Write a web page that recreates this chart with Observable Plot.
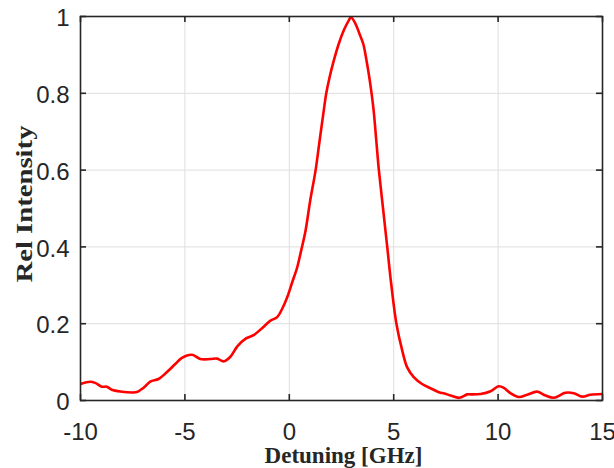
<!DOCTYPE html>
<html>
<head>
<meta charset="utf-8">
<script src="https://cdn.jsdelivr.net/npm/d3@7"></script>
<script src="https://cdn.jsdelivr.net/npm/@observablehq/plot@0.6"></script>
<style>
  html, body { margin: 0; padding: 0; background: #fff; }
</style>
</head>
<body>
<div id="chart"></div>
<script>
// Detuning [GHz]
const detuning = [
  -10, -9.54, -9.3, -8.98, -8.74, -8.5, -8.02, -7.54, -7.3, -6.98,
  -6.66, -6.26, -5.86, -5.46, -5.14, -4.66, -4.26, -3.78, -3.46, -3.14,
  -2.82, -2.49, -2.09, -1.69, -1.29, -0.9, -0.58, -0.34, -0.1, 0.14,
  0.38, 0.57, 0.78, 1.0, 1.26, 1.43, 1.65, 1.77, 1.93, 2.13,
  2.37, 2.61, 2.85, 2.95, 3.17, 3.36, 3.54, 3.70, 3.83, 3.94,
  4.04, 4.18, 4.29, 4.49, 4.69, 4.88, 5.13, 5.41, 5.64, 5.96,
  6.36, 6.84, 7.24, 7.40, 7.72, 8.15, 8.52, 8.68, 9.16, 9.64,
  10.03, 10.27, 10.59, 10.99, 11.39, 11.87, 12.27, 12.66, 13.22, 13.62,
  14.03, 14.42, 15.0
];
// Rel Intensity
const intensity = [
  0.043, 0.049, 0.046, 0.036, 0.036, 0.028, 0.023, 0.021, 0.022, 0.033,
  0.049, 0.056, 0.074, 0.095, 0.111, 0.119, 0.108, 0.108, 0.109, 0.102,
  0.114, 0.141, 0.161, 0.171, 0.189, 0.208, 0.217, 0.239, 0.269, 0.308,
  0.347, 0.391, 0.443, 0.52, 0.60, 0.668, 0.755, 0.80, 0.842, 0.885,
  0.929, 0.964, 0.99, 0.998, 0.981, 0.955, 0.929, 0.885, 0.842, 0.80,
  0.755, 0.668, 0.60, 0.50, 0.40, 0.304, 0.20, 0.130, 0.087, 0.061,
  0.043, 0.030, 0.020, 0.019, 0.013, 0.007, 0.016, 0.016, 0.017, 0.024,
  0.037, 0.033, 0.019, 0.009, 0.015, 0.023, 0.013, 0.007, 0.020, 0.019,
  0.010, 0.015, 0.017
];
const xTicks = [-10, -5, 0, 5, 10, 15];
const xTickLabels = ["-10", "-5", "0", "5", "10", "15"];
const yTicks = [0, 0.2, 0.4, 0.6, 0.8, 1];
const yTickLabels = ["0", "0.2", "0.4", "0.6", "0.8", "1"];
const xLabel = "Detuning [GHz]";
const yLabel = "Rel Intensity";

const data = detuning.map((x, i) => ({x, y: intensity[i]}));

const W = 614, H = 468, mL = 80, mR = 12, mT = 16, mB = 68;
const pw = W - mL - mR, ph = H - mT - mB;
const dark = "#262626";
const tickLen = 6;
const serif = "'Liberation Serif', 'Times New Roman', serif";

const chart = Plot.plot({
  width: W, height: H,
  marginLeft: mL, marginRight: mR, marginTop: mT, marginBottom: mB,
  x: {domain: [-10, 15]},
  y: {domain: [0, 1]},
  style: {background: "#fff", fontFamily: "'Liberation Sans', Arial, sans-serif", overflow: "visible"},
  marks: [
    Plot.gridX(xTicks, {stroke: "#dedede", strokeOpacity: 1, strokeWidth: 1}),
    Plot.gridY(yTicks, {stroke: "#dedede", strokeOpacity: 1, strokeWidth: 1}),
    Plot.line(data, {x: "x", y: "y", stroke: "#ff0000", strokeWidth: 2.6, curve: "catmull-rom", clip: true}),
    Plot.frame({stroke: dark, strokeWidth: 1.6}),
    Plot.tickX(xTicks, {x: d => d, insetTop: ph - tickLen, stroke: dark, strokeWidth: 1.6}),
    Plot.tickX(xTicks, {x: d => d, insetBottom: ph - tickLen, stroke: dark, strokeWidth: 1.6}),
    Plot.tickY(yTicks, {y: d => d, insetRight: pw - tickLen, stroke: dark, strokeWidth: 1.6}),
    Plot.tickY(yTicks, {y: d => d, insetLeft: pw - tickLen, stroke: dark, strokeWidth: 1.6}),
    Plot.axisX(xTicks, {tickSize: 0, tickPadding: 22, fontSize: 24, fill: dark, label: null,
      tickFormat: d => xTickLabels[xTicks.indexOf(d)]}),
    Plot.axisY(yTicks, {tickSize: 0, tickPadding: 11, fontSize: 24, fill: dark, label: null, dy: 2,
      tickFormat: d => yTickLabels[yTicks.indexOf(d)]}),
    Plot.text([xLabel], {text: d => d, frameAnchor: "bottom", lineAnchor: "middle", textAnchor: "middle",
      dy: 55.3, dx: 2, fontFamily: serif, fontWeight: "bold", fontSize: 23, fill: dark}),
    Plot.text([yLabel], {text: d => d, frameAnchor: "left", lineAnchor: "middle", textAnchor: "middle",
      rotate: -90, dx: -55.7, dy: -4.5, fontFamily: serif, fontWeight: "bold", fontSize: 23, fill: dark})
  ]
});

d3.select(chart).selectAll("text").each(function() {
  if (this.textContent === yLabel) {
    d3.select(this).attr("textLength", 157).attr("lengthAdjust", "spacingAndGlyphs");
  }
});

document.getElementById("chart").appendChild(chart);
</script>
</body>
</html>
